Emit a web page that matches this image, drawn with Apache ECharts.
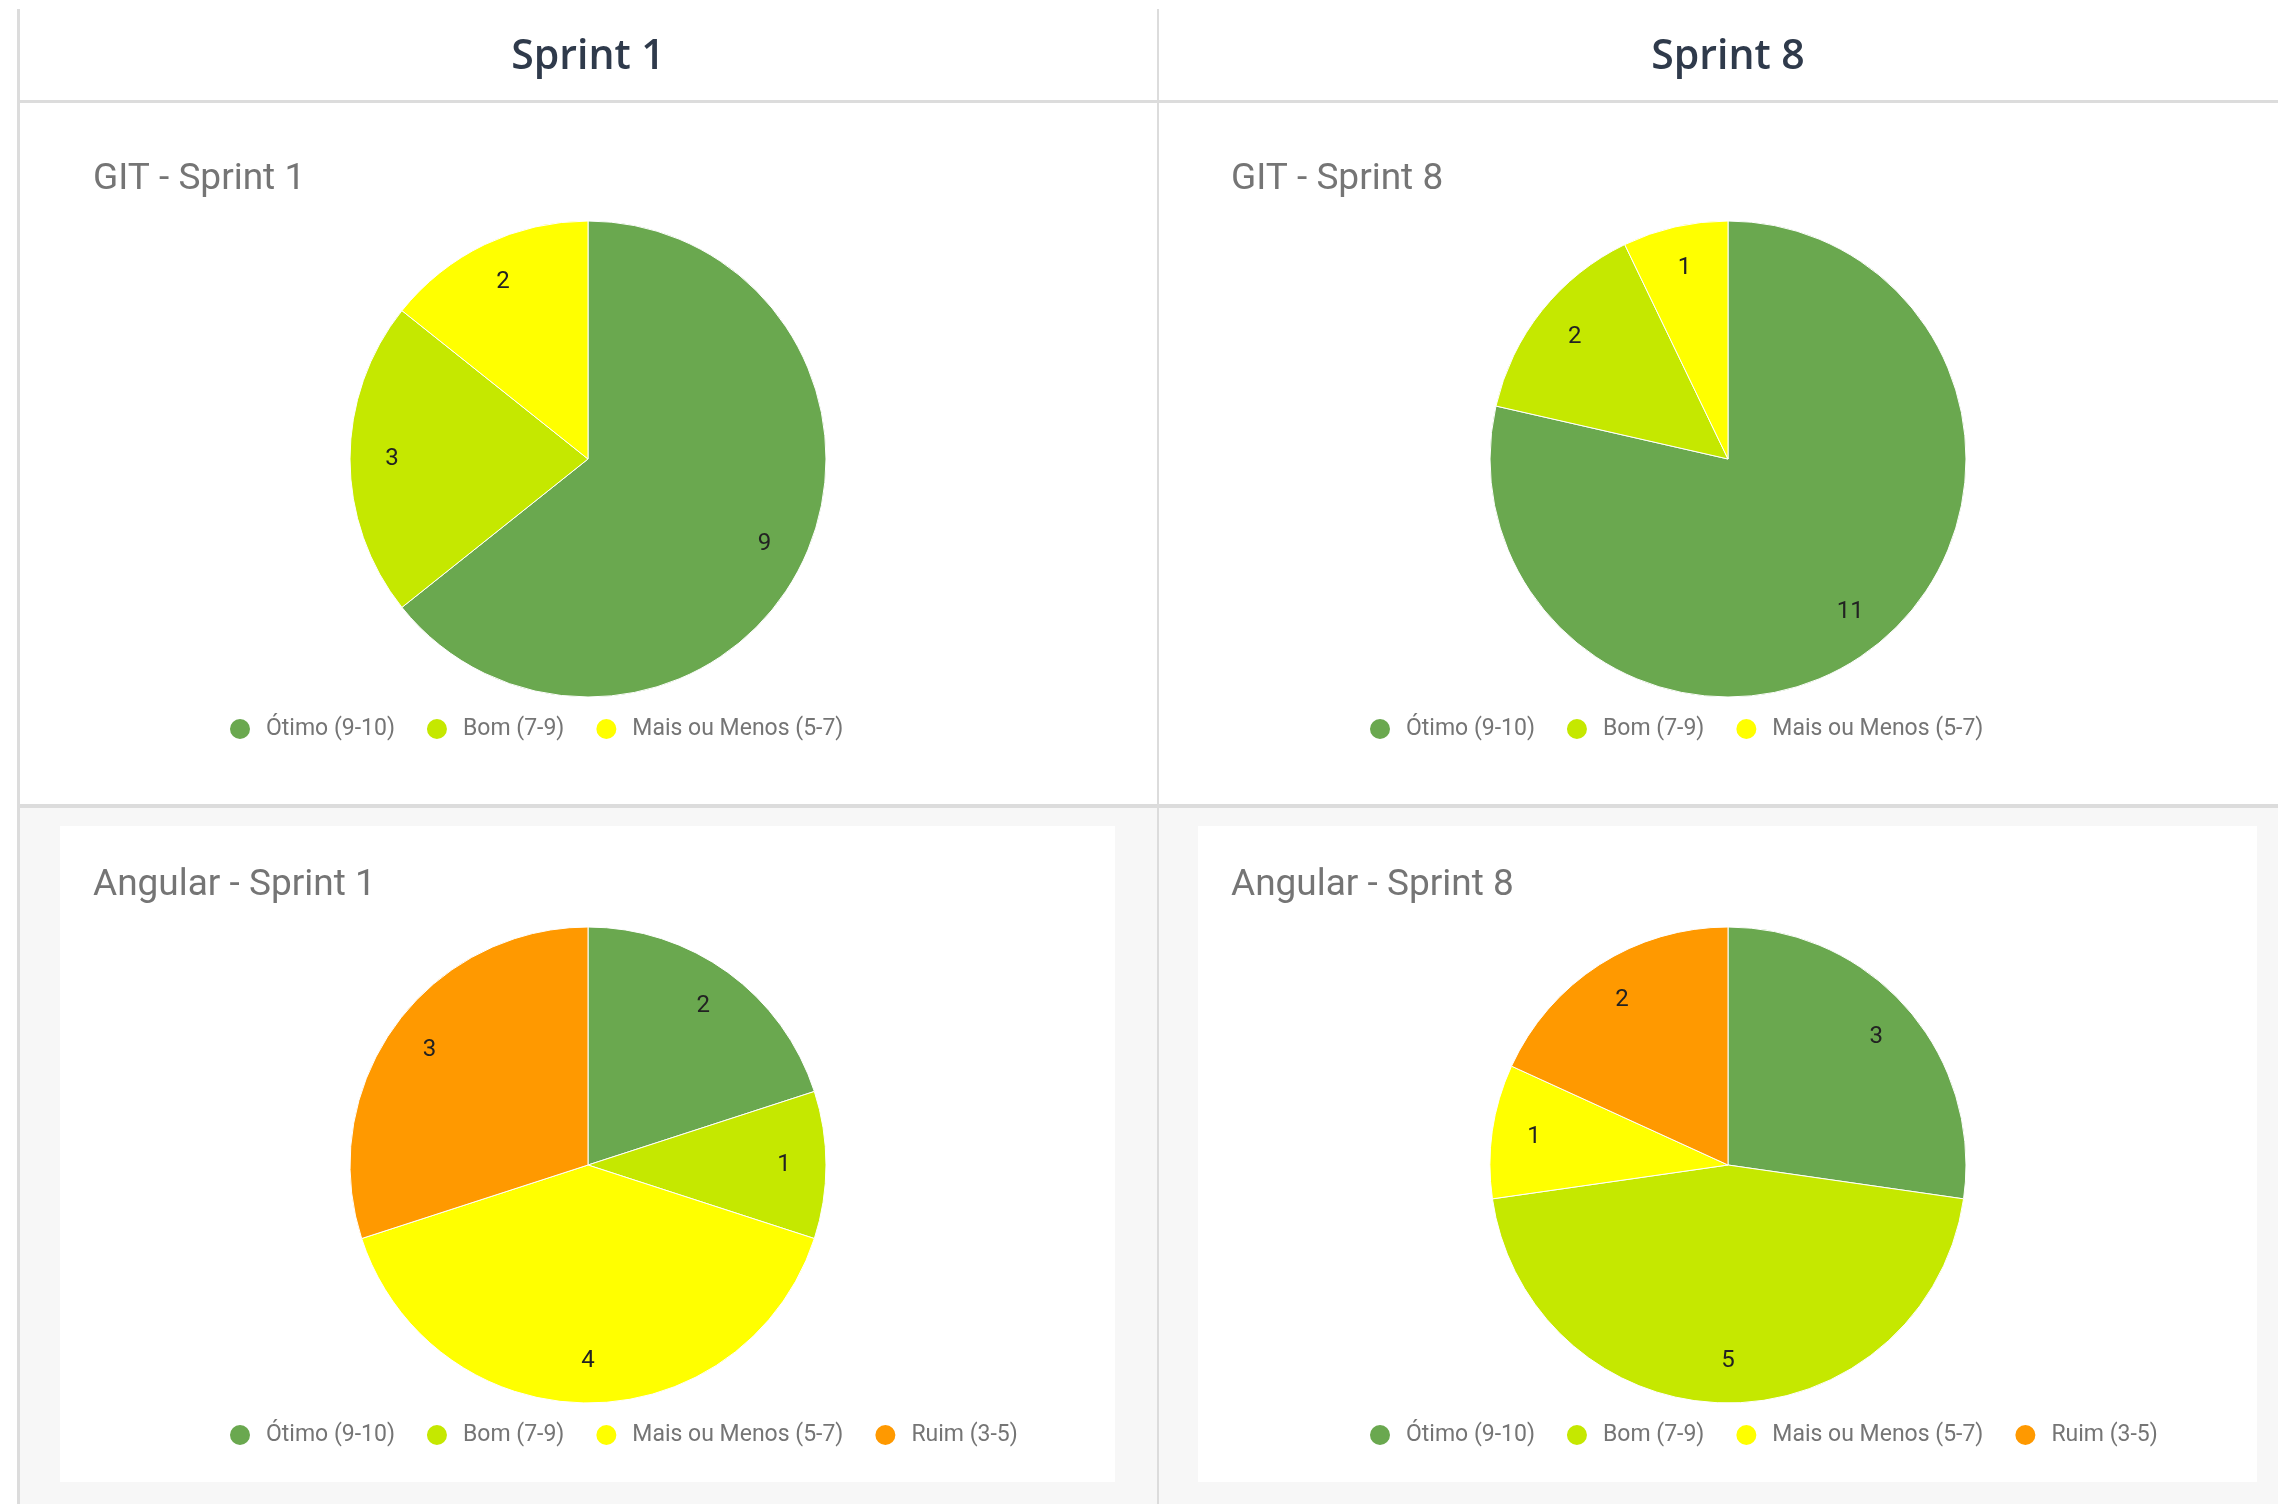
<!DOCTYPE html>
<html>
<head>
<meta charset="utf-8">
<script src="https://cdn.jsdelivr.net/npm/echarts@6.0.0/dist/echarts.min.js"></script>
<style>
html, body { margin: 0; padding: 0; background: #fff; }
#chart { width: 2278px; height: 1504px; }
</style>
</head>
<body>
<div id="chart"></div>
<script>
// categorias e cores
const categories = ["Ótimo (9-10)", "Bom (7-9)", "Mais ou Menos (5-7)", "Ruim (3-5)"]
const categoryColors = ["#6aa84f", "#c5e800", "#ffff00", "#ff9900"]

const sprintHeaders = ["Sprint 1", "Sprint 8"]
const chartTitles = ["GIT - Sprint 1", "GIT - Sprint 8", "Angular - Sprint 1", "Angular - Sprint 8"]

// votos por categoria
const gitSprint1 = [9, 3, 2]
const gitSprint8 = [11, 2, 1]
const angularSprint1 = [2, 1, 4, 3]
const angularSprint8 = [3, 5, 1, 2]

const chartValues = [gitSprint1, gitSprint8, angularSprint1, angularSprint8]

// layout da tabela
const colCenter = [588, 1728]
const colTitleX = [93, 1231]
const rowOffset = [0, 706]
const pieRadius = 238
const lineColor = "#dcdcdc"

const chart = echarts.init(document.getElementById("chart"))

const titles = []
const legends = []
const series = []

sprintHeaders.forEach((text, col) => {
  titles.push({
    text: text,
    left: colCenter[col],
    top: 37,
    padding: 0,
    textAlign: "center",
    textStyle: { fontFamily: "Open Sans", fontSize: 41, fontWeight: 600, color: "#2f3a4b" }
  })
})

chartValues.forEach((values, i) => {
  const col = i % 2
  const row = Math.floor(i / 2)
  const dy = rowOffset[row]
  const data = values.map((v, k) => ({
    name: categories[k],
    value: v,
    itemStyle: { color: categoryColors[k] }
  }))

  titles.push({
    text: chartTitles[i],
    left: colTitleX[col],
    top: 161 + dy,
    padding: 0,
    textStyle: { fontFamily: "Roboto", fontSize: 37, fontWeight: "normal", color: "#757575" }
  })

  legends.push({
    data: categories.slice(0, values.length),
    left: 228 + (colCenter[col] - colCenter[0]),
    top: 717 + dy,
    padding: 0,
    orient: "horizontal",
    icon: "circle",
    itemWidth: 22,
    itemHeight: 22,
    itemGap: 30,
    selectedMode: false,
    textStyle: { fontFamily: "Roboto", fontSize: 23, color: "#757575", padding: [0, 0, 0, 10] }
  })

  // fatias
  series.push({
    type: "pie",
    center: [colCenter[col], 459 + dy],
    radius: [0, pieRadius],
    startAngle: 90,
    clockwise: true,
    label: { show: false },
    labelLine: { show: false },
    emphasis: { disabled: true },
    itemStyle: { borderColor: "#fff", borderWidth: 1 },
    data: data
  })

  // rótulos dos valores (anel transparente para posicionar o texto)
  series.push({
    type: "pie",
    silent: true,
    legendHoverLink: false,
    center: [colCenter[col], 459 + dy],
    radius: [148, pieRadius],
    startAngle: 90,
    clockwise: true,
    itemStyle: { color: "rgba(0,0,0,0)" },
    label: {
      show: true,
      position: "inside",
      formatter: "{c}",
      fontFamily: "Roboto",
      fontSize: 24,
      color: "#222"
    },
    labelLine: { show: false },
    emphasis: { disabled: true },
    data: values.map((v, k) => ({ name: categories[k], value: v }))
  })
})

const graphics = [
  // fundo da segunda linha e cartões
  { type: "rect", z: -10, shape: { x: 18, y: 806, width: 2260, height: 698 }, style: { fill: "#f7f7f7" } },
  { type: "rect", z: -9, shape: { x: 60, y: 826, width: 1055, height: 656 }, style: { fill: "#ffffff" } },
  { type: "rect", z: -9, shape: { x: 1198, y: 826, width: 1059, height: 656 }, style: { fill: "#ffffff" } },
  // linhas da tabela
  { type: "rect", z: -5, shape: { x: 17, y: 9, width: 3, height: 1495 }, style: { fill: lineColor } },
  { type: "rect", z: -5, shape: { x: 1157, y: 9, width: 2, height: 1495 }, style: { fill: lineColor } },
  { type: "rect", z: -5, shape: { x: 17, y: 100, width: 2261, height: 3 }, style: { fill: lineColor } },
  { type: "rect", z: -5, shape: { x: 17, y: 804, width: 2261, height: 4 }, style: { fill: lineColor } }
]

chart.setOption({
  animation: false,
  backgroundColor: "#ffffff",
  title: titles,
  legend: legends,
  graphic: graphics,
  series: series
})

window.addEventListener("resize", () => chart.resize())
</script>
</body>
</html>
